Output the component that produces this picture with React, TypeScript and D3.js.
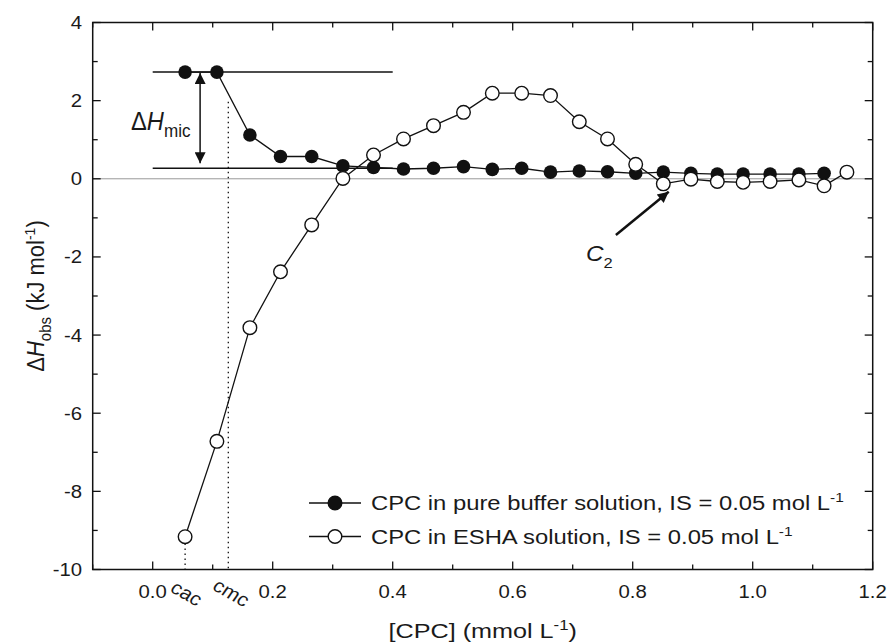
import React from "react";
import * as d3 from "d3";

// [CPC] in mmol/L, shared by both titrations
const cpcConc = [
  0.054, 0.107, 0.162, 0.213, 0.265, 0.317, 0.368, 0.418, 0.468, 0.518, 0.566, 0.615,
  0.663, 0.711, 0.758, 0.805, 0.851, 0.897, 0.941, 0.984, 1.029, 1.077, 1.119, 1.157,
];
// CPC in pure buffer (filled)
const bufferDH = [
  2.73, 2.73, 1.12, 0.57, 0.57, 0.33, 0.29, 0.25, 0.27, 0.31, 0.24, 0.27, 0.17, 0.2,
  0.18, 0.14, 0.17, 0.14, 0.12, 0.12, 0.12, 0.12, 0.14,
];
// CPC in ESHA solution (open)
const eshaDH = [
  -9.16, -6.72, -3.81, -2.38, -1.18, 0.01, 0.61, 1.02, 1.36, 1.7, 2.19, 2.19, 2.13,
  1.46, 1.02, 0.37, -0.13, -0.01, -0.07, -0.09, -0.07, -0.03, -0.18, 0.17,
];

const xTicks = [0, 0.2, 0.4, 0.6, 0.8, 1.0, 1.2];
const xMinor = [-0.1, 0.1, 0.3, 0.5, 0.7, 0.9, 1.1];
const yTicks = [-10, -8, -6, -4, -2, 0, 2, 4];
const yMinor = [-9, -7, -5, -3, -1, 1, 3];

const legendLabels = ["CPC in pure buffer solution, IS = 0.05 mol L", "CPC in ESHA solution, IS = 0.05 mol L"];

// annotation values
const micTop = 2.73;
const micBottom = 0.27;
const micLineX = [0, 0.4];
const micArrowX = 0.079;
const cac = 0.054;
const cmc = 0.126;
const cmcTop = 1.97;
const c2Tip = [0.86, -0.33];
const c2Tail = [0.772, -1.44];

const W = 889;
const H = 643;
const m = { left: 92.7, right: 872.7, top: 22.5, bottom: 569.5 };
const font = "'Liberation Sans', Arial, sans-serif";
const ink = "#111";
const txt = "#1a1a1a";

// text squeezed/stretched horizontally (the source font runs wide)
const SText = ({ x, y, k = 1, rot = 0, size, anchor = "start", italic = false, children }: any) => (
  <g transform={`translate(${x},${y}) scale(${k},1) rotate(${rot})`}>
    <text textAnchor={anchor} fontSize={size} fill={txt} fontStyle={italic ? "italic" : "normal"}>
      {children}
    </text>
  </g>
);

const App = () => {
  const x = d3.scaleLinear().domain([-0.1, 1.2]).range([m.left, m.right]);
  const y = d3.scaleLinear().domain([-10, 4]).range([m.bottom, m.top]);

  const line = d3
    .line<[number, number]>()
    .x((d) => x(d[0]))
    .y((d) => y(d[1]));

  const buf: [number, number][] = bufferDH.map((v, i) => [cpcConc[i], v]);
  const esh: [number, number][] = eshaDH.map((v, i) => [cpcConc[i], v]);

  const r = 6.8;

  return (
    <svg
      width={W}
      height={H}
      style={{ position: "absolute", left: 0, top: 0, background: "#fff" }}
      fontFamily={font}
    >
      <defs>
        <marker id="ah" viewBox="0 0 10 10" refX="10" refY="5" markerWidth="13" markerHeight="11" markerUnits="userSpaceOnUse" orient="auto-start-reverse">
          <path d="M0,0 L10,5 L0,10 z" fill={ink} />
        </marker>
      </defs>

      {/* zero line */}
      <line x1={m.left} x2={m.right} y1={y(0)} y2={y(0)} stroke="#999" strokeWidth={1} />

      {/* frame */}
      <rect x={m.left} y={m.top} width={m.right - m.left} height={m.bottom - m.top} fill="none" stroke={ink} strokeWidth={1.5} />

      {/* ticks */}
      {xTicks.map((t) => (
        <g key={"xt" + t}>
          <line x1={x(t)} x2={x(t)} y1={m.bottom} y2={m.bottom - 8} stroke={ink} strokeWidth={1.3} />
          <line x1={x(t)} x2={x(t)} y1={m.top} y2={m.top + 8} stroke={ink} strokeWidth={1.3} />
        </g>
      ))}
      {xMinor.map((t) => (
        <g key={"xm" + t}>
          <line x1={x(t)} x2={x(t)} y1={m.bottom} y2={m.bottom - 5} stroke={ink} strokeWidth={1.3} />
          <line x1={x(t)} x2={x(t)} y1={m.top} y2={m.top + 5} stroke={ink} strokeWidth={1.3} />
        </g>
      ))}
      {yTicks.map((t) => (
        <g key={"yt" + t}>
          <line x1={m.left} x2={m.left + 8} y1={y(t)} y2={y(t)} stroke={ink} strokeWidth={1.3} />
          <line x1={m.right} x2={m.right - 8} y1={y(t)} y2={y(t)} stroke={ink} strokeWidth={1.3} />
        </g>
      ))}
      {yMinor.map((t) => (
        <g key={"ym" + t}>
          <line x1={m.left} x2={m.left + 5} y1={y(t)} y2={y(t)} stroke={ink} strokeWidth={1.3} />
          <line x1={m.right} x2={m.right - 5} y1={y(t)} y2={y(t)} stroke={ink} strokeWidth={1.3} />
        </g>
      ))}

      {/* tick labels */}
      {xTicks.map((t) => (
        <SText key={"xl" + t} x={x(t)} y={598} k={1.13} anchor="middle" size={18}>
          {t.toFixed(1)}
        </SText>
      ))}
      {yTicks.map((t) => (
        <SText key={"yl" + t} x={82} y={y(t) + 6.5} k={1.13} anchor="end" size={18}>
          {t}
        </SText>
      ))}

      {/* axis titles */}
      <SText x={(m.left + m.right) / 2} y={638} k={1.2} anchor="middle" size={21}>
        [CPC] (mmol L<tspan dy={-8} fontSize={14}>-1</tspan>
        <tspan dy={8}>)</tspan>
      </SText>
      <SText x={44} y={(m.top + m.bottom) / 2} k={1.1} rot={-90} anchor="middle" size={22}>
        Δ<tspan fontStyle="italic">H</tspan>
        <tspan dy={6} fontSize={15}>obs</tspan>
        <tspan dy={-6}> (kJ mol</tspan>
        <tspan dy={-8} fontSize={14}>-1</tspan>
        <tspan dy={8}>)</tspan>
      </SText>

      {/* ΔHmic annotation */}
      <line x1={x(micLineX[0])} x2={x(micLineX[1])} y1={y(micTop)} y2={y(micTop)} stroke={ink} strokeWidth={1.5} />
      <line x1={x(micLineX[0])} x2={x(micLineX[1])} y1={y(micBottom)} y2={y(micBottom)} stroke={ink} strokeWidth={1.5} />
      <line
        x1={x(micArrowX)}
        x2={x(micArrowX)}
        y1={y(micTop) + 1}
        y2={y(micBottom) - 5}
        stroke={ink}
        strokeWidth={1.5}
        markerStart="url(#ah)"
        markerEnd="url(#ah)"
      />
      <SText x={131} y={130} k={0.95} size={25}>
        Δ<tspan fontStyle="italic">H</tspan>
        <tspan dy={7} fontSize={18}>mic</tspan>
      </SText>

      {/* cac / cmc dotted lines */}
      <line x1={x(cac)} x2={x(cac)} y1={y(eshaDH[0]) + r} y2={m.bottom} stroke={ink} strokeWidth={1.3} strokeDasharray="1.5,3.5" />
      <line x1={x(cmc)} x2={x(cmc)} y1={y(cmcTop)} y2={m.bottom} stroke={ink} strokeWidth={1.3} strokeDasharray="1.5,3.5" />
      <SText x={x(cac) - 16} y={591} k={1.1} rot={32} size={19}>
        cac
      </SText>
      <SText x={x(cmc) - 17} y={589} k={1.1} rot={32} size={19}>
        cmc
      </SText>

      {/* data: buffer */}
      <path d={line(buf) ?? ""} fill="none" stroke={ink} strokeWidth={1.3} />
      {buf.map((d, i) => (
        <circle key={"b" + i} cx={x(d[0])} cy={y(d[1])} r={r} fill={ink} />
      ))}

      {/* data: ESHA */}
      <path d={line(esh) ?? ""} fill="none" stroke={ink} strokeWidth={1.3} />
      {esh.map((d, i) => (
        <circle key={"e" + i} cx={x(d[0])} cy={y(d[1])} r={r} fill="#fff" stroke={ink} strokeWidth={1.4} />
      ))}

      {/* C2 arrow */}
      <line
        x1={x(c2Tail[0])}
        y1={y(c2Tail[1])}
        x2={x(c2Tip[0])}
        y2={y(c2Tip[1])}
        stroke={ink}
        strokeWidth={2.5}
        markerEnd="url(#ah)"
      />
      <SText x={586} y={261} k={1.1} size={22} italic>
        C<tspan dy={7} fontSize={15} fontStyle="normal">2</tspan>
      </SText>

      {/* legend */}
      {legendLabels.map((lab, i) => {
        const ly = 503 + i * 33.5;
        return (
          <g key={"lg" + i}>
            <line x1={309} x2={361} y1={ly} y2={ly} stroke={ink} strokeWidth={1.3} />
            <circle cx={335} cy={ly} r={r} fill={i === 0 ? ink : "#fff"} stroke={ink} strokeWidth={1.4} />
            <SText x={371} y={ly + 7} k={1.19} size={20}>
              {lab}
              <tspan dy={-8} fontSize={13}>-1</tspan>
            </SText>
          </g>
        );
      })}
    </svg>
  );
};

export default App;
